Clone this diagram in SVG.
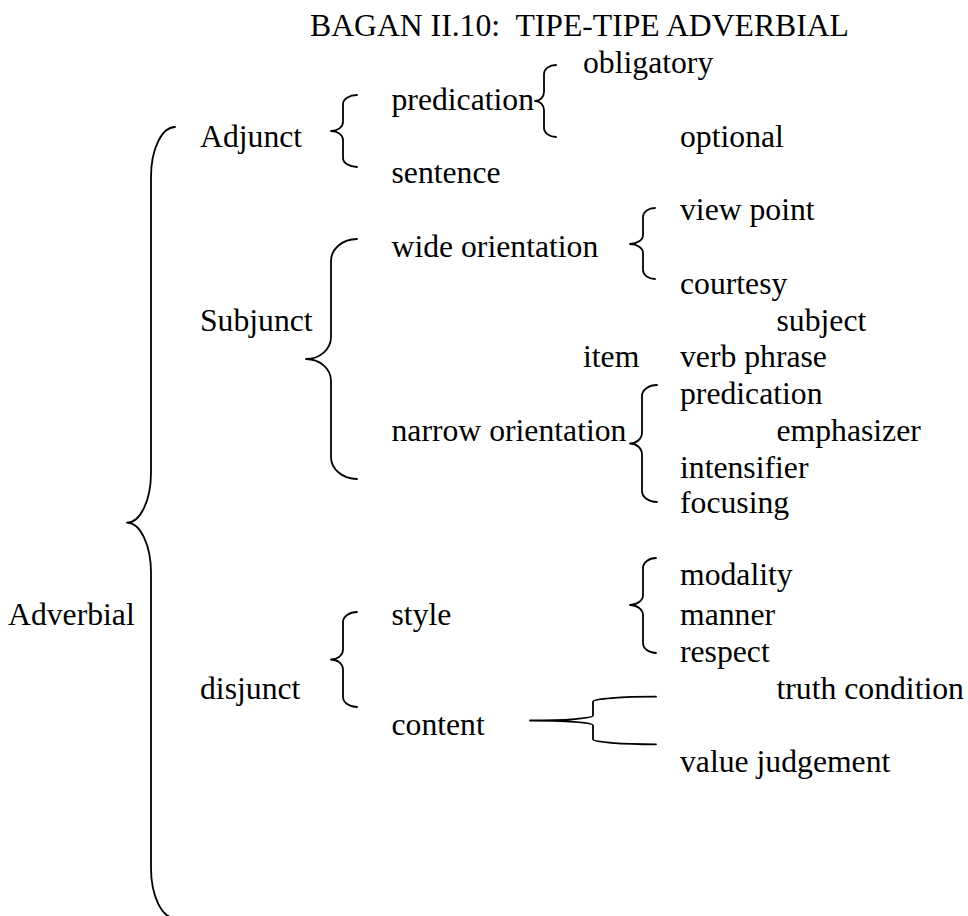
<svg xmlns="http://www.w3.org/2000/svg" width="968" height="916" viewBox="0 0 968 916" font-family="'Liberation Serif', 'Times New Roman', serif" font-size="31.7">
  <style>
    .lbl { font-family: 'Liberation Serif', 'Times New Roman', serif; font-size: 31.7px; fill: #000; }
    .brace { fill: none; stroke: #000; stroke-width: 1.8; stroke-linecap: round; stroke-linejoin: round; }
  </style>
  <rect width="968" height="916" fill="#fff"/>

  <!-- heading -->
  <g id="title" class="lbl">
    <text x="310" y="35.5" xml:space="preserve">BAGAN II.10:  TIPE-TIPE ADVERBIAL</text>
  </g>

  <!-- classification labels -->
  <g class="lbl" xml:space="preserve">
    <g id="adverbial"><text x="8" y="625">Adverbial</text></g>
    <g id="adjunct"><text x="200" y="146.6">Adjunct</text></g>
    <g id="adjunct-predication"><text x="391.5" y="109.8">predication</text></g>
    <g id="obligatory"><text x="583" y="73">obligatory</text></g>
    <g id="optional"><text x="680" y="146.6">optional</text></g>
    <g id="sentence"><text x="391.5" y="183.4">sentence</text></g>
    <g id="subjunct"><text x="200" y="330.6">Subjunct</text></g>
    <g id="wide-orientation"><text x="391.5" y="257">wide orientation</text></g>
    <g id="view-point"><text x="680" y="220.2">view point</text></g>
    <g id="courtesy"><text x="680" y="293.8">courtesy</text></g>
    <g id="narrow-orientation"><text x="391.5" y="441">narrow orientation</text></g>
    <g id="subject"><text x="776.5" y="330.6">subject</text></g>
    <g id="item"><text x="583" y="367.4">item</text></g>
    <g id="verb-phrase"><text x="680" y="367.4">verb phrase</text></g>
    <g id="subjunct-predication"><text x="680" y="404.2">predication</text></g>
    <g id="emphasizer"><text x="776.5" y="441">emphasizer</text></g>
    <g id="intensifier"><text x="680" y="477.8">intensifier</text></g>
    <g id="focusing"><text x="680" y="512.5">focusing</text></g>
    <g id="disjunct"><text x="200" y="698.6">disjunct</text></g>
    <g id="style"><text x="391.5" y="625">style</text></g>
    <g id="modality"><text x="680" y="585">modality</text></g>
    <g id="manner"><text x="680" y="625">manner</text></g>
    <g id="respect"><text x="680" y="661.8">respect</text></g>
    <g id="content"><text x="391.5" y="735">content</text></g>
    <g id="truth-condition"><text x="776.5" y="698.6">truth condition</text></g>
    <g id="value-judgement"><text x="680" y="772.2">value judgement</text></g>
  </g>

  <!-- braces joining each term to its subtypes -->
  <g id="connectors">
    <!-- Adverbial -->
    <path class="brace" d="M175,127 A24,50 0 0 0 151,177 L151,472.7 A24,50 0 0 1 127,522.7 A24,50 0 0 1 151,572.7 L151,868 A24,50 0 0 0 175,918"/>
    <!-- Adjunct -->
    <path class="brace" d="M357,95 A14,9 0 0 0 343,104 L343,122 A12,9 0 0 1 331,131 A12,9 0 0 1 343,140 L343,158 A14,9 0 0 0 357,167"/>
    <!-- predication: obligatory / optional -->
    <path class="brace" d="M556,65 A12,9 0 0 0 544,74 L544,92 A9,9 0 0 1 535,101 A9,9 0 0 1 544,110 L544,128 A12,9 0 0 0 556,137"/>
    <!-- Subjunct -->
    <path class="brace" d="M357,239 A26,22 0 0 0 331,261 L331,337 A25,22 0 0 1 306,359 A25,22 0 0 1 331,381 L331,457 A26,22 0 0 0 357,479"/>
    <!-- wide orientation -->
    <path class="brace" d="M655,208 A12,9 0 0 0 643,217 L643,235 A13,9 0 0 1 630,244 A13,9 0 0 1 643,253 L643,270 A12,9 0 0 0 655,279"/>
    <!-- narrow orientation -->
    <path class="brace" d="M657,385 A15,11 0 0 0 642,396 L642,432.5 A12,11 0 0 1 630,443.5 A12,11 0 0 1 642,454.5 L642,491 A15,11 0 0 0 657,502"/>
    <!-- style -->
    <path class="brace" d="M656,558 A13,10 0 0 0 643,568 L643,595 A13,10 0 0 1 630,605 A13,10 0 0 1 643,615 L643,643 A13,10 0 0 0 656,653"/>
    <!-- disjunct -->
    <path class="brace" d="M357,612 A14,10 0 0 0 343,622 L343,649.5 A12,10 0 0 1 331,659.5 A12,10 0 0 1 343,669.5 L343,697 A14,10 0 0 0 357,707"/>
    <!-- content: wide flat brace -->
    <path class="brace" d="M656,696.7 A63,5 0 0 0 593,701.7 L593,715.5 A63,5 0 0 1 530,720.5 A63,5 0 0 1 593,725.5 L593,739.3 A63,5 0 0 0 656,744.3"/>
  </g>
</svg>
